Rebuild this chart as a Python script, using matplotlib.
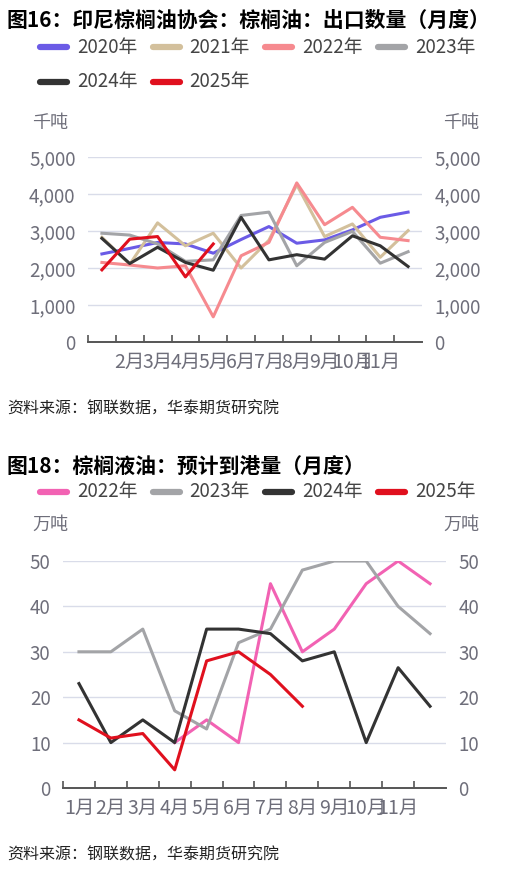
import matplotlib
matplotlib.use("Agg")
import matplotlib.pyplot as plt
from matplotlib.lines import Line2D
from matplotlib.ticker import FuncFormatter

plt.rcParams['font.family'] = ['Noto Sans CJK SC', 'DejaVu Sans']

# ---- 图16 数据：出口数量（千吨）
months = [f"{m}月" for m in range(1, 13)]
top_labels = [""] + months[1:11] + [""]
exp_2020 = [2380, 2530, 2690, 2650, 2400, 2770, 3120, 2670, 2760, 3030, 3370, 3510]
exp_2021 = [2830, 2100, 3220, 2600, 2940, 2000, 2750, 4250, 2850, 3190, 2290, 3010]
exp_2022 = [2150, 2080, 2000, 2060, 680, 2330, 2690, 4300, 3170, 3640, 2830, 2740]
exp_2023 = [2940, 2890, 2650, 2180, 2220, 3420, 3510, 2060, 2690, 2990, 2130, 2440]
exp_2024 = [2800, 2120, 2560, 2150, 1940, 3370, 2220, 2360, 2240, 2870, 2600, 2040]
exp_2025 = [1950, 2780, 2850, 1760, 2650]

# ---- 图18 数据：预计到港量（万吨）
bot_labels = months[:11] + [""]
arr_2022 = [None, None, None, 10, 15, 10, 45, 30, 35, 45, 50, 45]
arr_2023 = [30, 30, 35, 17, 13, 32, 35, 48, 50, 50, 40, 34]
arr_2024 = [23, 10, 15, 10, 35, 35, 34, 28, 30, 10, 26.5, 18]
arr_2025 = [15, 11, 12, 4, 28, 30, 25, 18]

GRID = "#d9dce9"
TICK = "#6e6e7a"
AXIS = "#555555"
W, H = 519, 872

fig = plt.figure(figsize=(5.19, 8.72), dpi=100)


def style(ax, ymax, step, fmt):
    ax.set_xlim(-0.5, 11.5)
    ax.set_ylim(0, ymax)
    ax.set_yticks(range(0, ymax + 1, step))
    ax.yaxis.set_major_formatter(FuncFormatter(fmt))
    ax.grid(axis="y", color=GRID, lw=1)
    ax.set_axisbelow(True)
    for s in ("top", "left", "right"):
        ax.spines[s].set_visible(False)
    ax.spines["bottom"].set_color(AXIS)
    ax.spines["bottom"].set_linewidth(1.4)
    ax.tick_params(axis="y", length=0, labelleft=True, labelright=True,
                   labelsize=13.5, labelcolor=TICK, pad=9)
    ax.set_xticks([i - 0.5 for i in range(12)], minor=False)
    ax.set_xticklabels([])
    ax.set_xticks(range(12), minor=True)
    ax.tick_params(axis="x", which="major", direction="in", length=5,
                   width=1.2, color=AXIS)
    ax.tick_params(axis="x", which="minor", length=0, labelsize=14,
                   labelcolor=TICK, pad=7)


def legend(ax, y0, row_gap=35):
    # 手工排版图例：每行4项，行优先
    for k, line in enumerate(ax.get_lines()):
        r, c = divmod(k, 4)
        xl = 40 + c * 112.7
        y = 1 - (y0 + r * row_gap) / H
        fig.add_artist(Line2D([xl / W, (xl + 27) / W], [y, y],
                              color=line.get_color(), lw=4.5,
                              solid_capstyle="round"))
        fig.text((xl + 37) / W, y, line.get_label(), fontsize=13.5,
                 color="#444444", va="center", ha="left")


# ---------------- 图16
ax1 = fig.add_axes([88 / W, 1 - 342 / H, 334 / W, 185 / H])
x = range(12)
ax1.plot(x, exp_2020, color="#6b5be6", lw=2.2, label="2020年")
ax1.plot(x, exp_2021, color="#d3c09c", lw=2.2, label="2021年")
ax1.plot(x, exp_2022, color="#f68a8f", lw=2.2, label="2022年")
ax1.plot(x, exp_2023, color="#a3a4a7", lw=2.2, label="2023年")
ax1.plot(x, exp_2024, color="#333333", lw=2.2, label="2024年")
ax1.plot(range(len(exp_2025)), exp_2025, color="#e0101e", lw=2.2, label="2025年")
style(ax1, 5000, 1000, lambda v, p: f"{int(v):,}")
ax1.set_xticklabels(top_labels, minor=True)

fig.text(7 / W, 1 - 20 / H, "图16：印尼棕榈油协会：棕榈油：出口数量（月度）",
         fontsize=15, fontweight="bold", va="center", ha="left")
legend(ax1, 47)
fig.text(50 / W, 1 - 123 / H, "千吨", fontsize=13, color=TICK,
         ha="center", va="center")
fig.text(461 / W, 1 - 123 / H, "千吨", fontsize=13, color=TICK,
         ha="center", va="center")
fig.text(7 / W, 1 - 409 / H, "资料来源：钢联数据，华泰期货研究院",
         fontsize=11.5, style="italic", va="center", ha="left", color="#222222")

# ---------------- 图18
ax2 = fig.add_axes([63 / W, 1 - 788 / H, 383 / W, 227 / H])
ax2.plot(x, arr_2022, color="#f262b3", lw=2.2, label="2022年")
ax2.plot(x, arr_2023, color="#a3a4a7", lw=2.2, label="2023年")
ax2.plot(x, arr_2024, color="#333333", lw=2.2, label="2024年")
ax2.plot(range(len(arr_2025)), arr_2025, color="#e0101e", lw=2.2, label="2025年")
style(ax2, 50, 10, lambda v, p: f"{int(v)}")
ax2.set_xticklabels(bot_labels, minor=True)

fig.text(7 / W, 1 - 467 / H, "图18：棕榈液油：预计到港量（月度）",
         fontsize=15, fontweight="bold", va="center", ha="left")
legend(ax2, 492)
fig.text(50 / W, 1 - 525 / H, "万吨", fontsize=13, color=TICK,
         ha="center", va="center")
fig.text(461 / W, 1 - 525 / H, "万吨", fontsize=13, color=TICK,
         ha="center", va="center")
fig.text(7 / W, 1 - 855 / H, "资料来源：钢联数据，华泰期货研究院",
         fontsize=11.5, style="italic", va="center", ha="left", color="#222222")

fig.savefig("out.png", dpi=100)
